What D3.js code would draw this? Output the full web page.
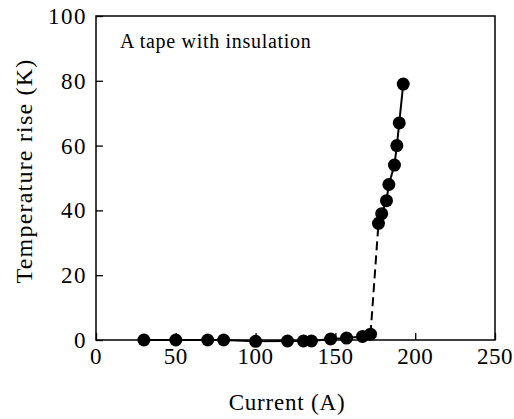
<!DOCTYPE html>
<html>
<head>
<meta charset="utf-8">
<script src="https://cdn.jsdelivr.net/npm/d3@7"></script>
<style>
  body { margin: 0; background: #fff; }
</style>
</head>
<body>
<div id="chart"></div>
<script>
const current = [30, 50, 70, 80, 100, 120, 130, 135, 147, 157, 167, 172,
                 177, 179, 182, 183.5, 187, 188.5, 190, 192.5];
const rise = [0, 0, 0, 0, -0.4, -0.3, -0.3, -0.3, 0.3, 0.6, 1.1, 1.8,
              36, 39, 43, 48, 54, 60, 67, 79];
// index where the dashed jump starts
const jump_at = 11;

const x_ticks = [0, 50, 100, 150, 200, 250];
const y_ticks = [0, 20, 40, 60, 80, 100];

const W = 514, H = 419;
const frame = {left: 96, right: 495, top: 16, bottom: 340};
const serif = "'Liberation Serif', 'DejaVu Serif', 'Times New Roman', serif";

const points = current.map((c, i) => ({x: c, y: rise[i]}));

const X = d3.scaleLinear().domain([0, 250]).range([frame.left, frame.right]);
const Y = d3.scaleLinear().domain([0, 100]).range([frame.bottom, frame.top]);

const svg = d3.select('#chart').append('svg')
  .attr('width', W)
  .attr('height', H)
  .style('font-family', serif);

// plot frame
svg.append('rect')
  .attr('x', frame.left).attr('y', frame.top)
  .attr('width', frame.right - frame.left)
  .attr('height', frame.bottom - frame.top)
  .attr('fill', 'none')
  .attr('stroke', '#000')
  .attr('stroke-width', 1.5);

// inward ticks, drawn with the axis generators
const x_axis = d3.axisBottom(X).tickValues(x_ticks).tickSize(-7).tickFormat('');
const y_axis = d3.axisLeft(Y).tickValues(y_ticks).tickSize(-7).tickFormat('');

svg.append('g')
  .attr('transform', `translate(0,${frame.bottom})`)
  .call(x_axis)
  .call(g => g.select('.domain').remove())
  .selectAll('line').attr('stroke', '#000').attr('stroke-width', 1.3);

svg.append('g')
  .attr('transform', `translate(${frame.left},0)`)
  .call(y_axis)
  .call(g => g.select('.domain').remove())
  .selectAll('line').attr('stroke', '#000').attr('stroke-width', 1.3);

// tick labels
svg.append('g').selectAll('text')
  .data(x_ticks)
  .join('text')
  .attr('x', d => X(d))
  .attr('y', 364)
  .attr('text-anchor', 'middle')
  .style('font-family', serif)
  .attr('font-size', 23)
  .attr('letter-spacing', 0.5)
  .text(d => d);

svg.append('g').selectAll('text')
  .data(y_ticks)
  .join('text')
  .attr('x', 87)
  .attr('y', d => Y(d) + 8)
  .attr('text-anchor', 'end')
  .style('font-family', serif)
  .attr('font-size', 23)
  .attr('letter-spacing', 1.5)
  .text(d => d);

// axis titles
svg.append('text')
  .attr('x', 287)
  .attr('y', 410)
  .attr('text-anchor', 'middle')
  .style('font-family', serif)
  .attr('font-size', 23)
  .attr('letter-spacing', 0.8)
  .text('Current (A)');

svg.append('text')
  .attr('transform', 'translate(32,171) rotate(-90)')
  .attr('text-anchor', 'middle')
  .style('font-family', serif)
  .attr('font-size', 24)
  .attr('letter-spacing', 1.2)
  .text('Temperature rise (K)');

// annotation
svg.append('text')
  .attr('x', 120)
  .attr('y', 48)
  .style('font-family', serif)
  .attr('font-size', 20)
  .attr('letter-spacing', 0.7)
  .text('A tape with insulation');

// data line: solid, dashed jump, solid
const line = d3.line().x(d => X(d.x)).y(d => Y(d.y));

const segments = [
  {pts: points.slice(0, jump_at + 1), dash: null},
  {pts: points.slice(jump_at, jump_at + 2), dash: '9,5'},
  {pts: points.slice(jump_at + 1), dash: null},
];

svg.append('g').selectAll('path')
  .data(segments)
  .join('path')
  .attr('d', d => line(d.pts))
  .attr('fill', 'none')
  .attr('stroke', '#000')
  .attr('stroke-width', 2)
  .attr('stroke-dasharray', d => d.dash);

svg.append('g').selectAll('circle')
  .data(points)
  .join('circle')
  .attr('cx', d => X(d.x))
  .attr('cy', d => Y(d.y))
  .attr('r', 6.5)
  .attr('fill', '#000');
</script>
</body>
</html>
